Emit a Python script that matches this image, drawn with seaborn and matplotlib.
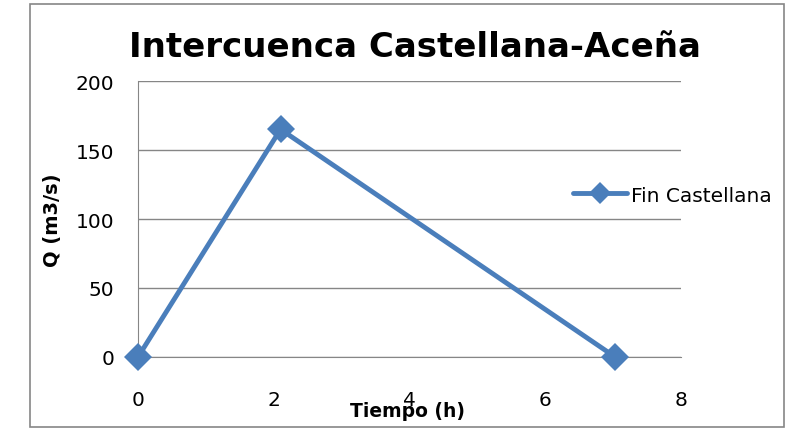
import matplotlib
matplotlib.use("Agg")
import matplotlib.pyplot as plt
import numpy as np
import pandas as pd
import seaborn as sns
from matplotlib.patches import Rectangle

# Data
tiempo = [0, 2.1, 7.03]
caudal = [0, 165, 0]
serie = "Fin Castellana"

df = pd.DataFrame({"Tiempo (h)": tiempo, "Q (m3/s)": caudal})

sns.set_style("white")
plt.rcParams["font.family"] = ["DejaVu Sans"]
plt.rcParams["text.color"] = "black"
plt.rcParams["axes.labelcolor"] = "black"
plt.rcParams["xtick.color"] = "black"
plt.rcParams["ytick.color"] = "black"

fig = plt.figure(figsize=(7.86, 4.31), dpi=100)
ax = fig.add_axes([0.1756, 0.1694, 0.6908, 0.6403])

blue = "#4A7EBB"
sns.lineplot(data=df, x="Tiempo (h)", y="Q (m3/s)", ax=ax, color=blue,
             linewidth=3.5, marker="D", markersize=14, markeredgewidth=0,
             label=serie, clip_on=False, zorder=5)

ax.set_xlim(0, 8)
ax.set_ylim(0, 200)
ax.set_xticks(np.arange(0, 9, 2))
ax.set_yticks(np.arange(0, 201, 50))
ax.grid(axis="y", color="#868686", linewidth=1)
ax.grid(axis="x", visible=False)
for s in ["top", "right"]:
    ax.spines[s].set_visible(False)
ax.spines["left"].set_color("#868686")
ax.spines["bottom"].set_color("#868686")
ax.tick_params(axis="x", length=0, pad=24, labelsize=14.5)
ax.tick_params(axis="y", length=0, pad=17, labelsize=14.5)

ax.set_xlabel("Tiempo (h)", fontsize=13.5, fontweight="bold", va="top")
ax.xaxis.set_label_coords(0.497, -0.16)
ax.set_ylabel("Q (m3/s)", fontsize=14, fontweight="bold", va="center")
ax.yaxis.set_label_coords(-0.158, 0.5)

fig.text(415 / 786, 1 - 57 / 431, "Intercuenca Castellana-Aceña", ha="center",
         va="baseline", fontsize=24.5, fontweight="bold")

leg = ax.legend(loc="center left", bbox_to_anchor=(573 / 786, 1 - 196 / 431),
                bbox_transform=fig.transFigure, frameon=False, fontsize=14.5,
                handlelength=2.7, handletextpad=0.2, borderpad=0,
                borderaxespad=0, markerscale=0.8)

fig.patches.append(Rectangle((30 / 786, 3 / 431), 754 / 786, 423 / 431,
                             transform=fig.transFigure, fill=False,
                             edgecolor="#868686", linewidth=1.2))

fig.savefig("out.png", dpi=100)
